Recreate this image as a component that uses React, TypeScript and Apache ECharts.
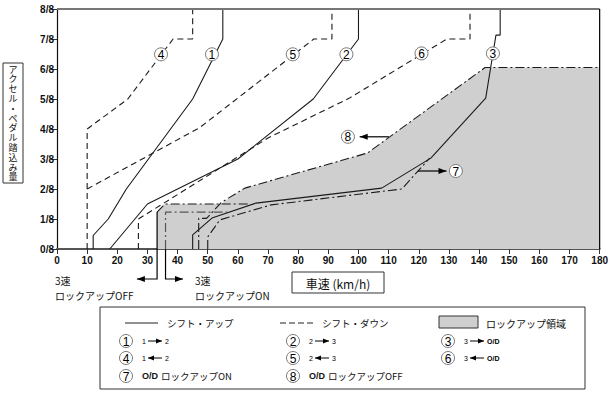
import React, { useEffect, useRef } from "react";
import * as echarts from "echarts";

// ---- data (speed km/h, accelerator pedal in eighths) ----
const X_MIN = 0;
const X_MAX = 180;
const X_STEP = 10;
const yTickLabels = ["0/8", "1/8", "2/8", "3/8", "4/8", "5/8", "6/8", "7/8", "8/8"];

const up12 = [[12, 0], [12, 0.45], [17, 1], [23, 2], [45, 5], [55, 7], [55, 8]];
const up23 = [[17.5, 0], [30, 1.5], [60, 3], [85, 5], [100, 7], [100, 8]];
const up3OD = [[45, 0], [45, 0.47], [51.4, 1.03], [66, 1.53], [107.7, 2.03], [124, 3.03], [142.2, 5.03], [145.6, 7.13], [147, 7.13], [147, 8]];
const down21 = [[10, 0], [10, 4], [23.5, 5], [38.5, 7], [45, 7], [45, 8]];
const down32 = [[10, 2], [47.4, 4.05], [85.2, 7], [91.2, 7], [91.2, 8]];
const downOD3 = [[27, 0], [27, 1], [70, 3.7], [97, 5.03], [129.3, 7], [137, 7], [137, 8]];
const lockOnOD = [[50, 0], [50, 0.4], [54, 0.97], [71, 1.47], [114.4, 2.0], [123.6, 3.03]];
const lockOffOD = [[47, 0], [47, 1.02], [49.6, 1.02], [54.5, 1.55], [62.3, 2.03], [103, 3.2], [142, 6.05], [180, 6.05]];
const lock3OffVert = [[33.2, 0], [33.2, 1.23]];
const lock3Off = [[33.2, 1.23], [35.8, 1.5], [64, 1.5]];
const lock3On = [[36, 0], [36, 1.23], [56.5, 1.23]];
const lockArea = [[33.2, 0], [33.2, 1.23], [35.8, 1.5], [54.3, 1.5], [62.3, 2.03], [103, 3.2], [142, 6.05], [180, 6.05]];

const markerPos = [
  [51.4, 6.49, "1"], [96, 6.49, "2"], [144.6, 6.52, "3"], [34.5, 6.49, "4"],
  [78.2, 6.49, "5"], [120.9, 6.52, "6"], [132.3, 2.6, "7"], [96.5, 3.74, "8"],
];
const arrow7 = [[119.7, 2.6], [129.2, 2.6]];
const arrow8 = [[110.1, 3.74], [100.4, 3.74]];
const lock3OffArrowX = [33.2, 26.5];
const lock3OnArrowX = [36, 41.8];

const FF = '"Liberation Sans", Arial, "Noto Sans CJK JP", sans-serif';
const JF = '"Noto Sans CJK JP", "Liberation Sans", sans-serif';
const INK = "#1a1a1a";
const DASH = [6, 4];
const DASHDOT = [9, 3, 2, 3];

const ln = (data: number[][], type: any, z = 3, width = 1.1, color = INK) => ({
  type: "line", data, symbol: "none", silent: true, z, clip: false,
  lineStyle: { color, width, type },
});

function arrowHead(x: number, y: number, dx: number, dy: number, len = 8, half = 3) {
  const L = Math.hypot(dx, dy) || 1;
  const ux = dx / L, uy = dy / L;
  const bx = x - ux * len, by = y - uy * len;
  return {
    type: "polygon", z: 50,
    shape: { points: [[x, y], [bx - uy * half, by + ux * half], [bx + uy * half, by - ux * half]] },
    style: { fill: "#000" },
  };
}

function circleLabel(cx: number, cy: number, t: string, r = 6.5) {
  return [
    { type: "circle", z: 50, shape: { cx, cy, r }, style: { fill: "#fff", stroke: "#777", lineWidth: 1 } },
    { type: "text", z: 51, x: cx, y: cy + 0.5, style: { text: t, fill: "#000", font: `12px ${FF}`, align: "center", verticalAlign: "middle" } },
  ];
}

function smallArrowText(x: number, y: number, a: string, b: string, left: boolean) {
  const els: any[] = [];
  els.push({ type: "text", z: 50, x, y, style: { text: a, fill: "#000", font: `7px ${FF}`, align: "left", verticalAlign: "middle" } });
  const x1 = x + 6, x2 = x + 20;
  els.push({ type: "line", z: 50, shape: { x1, y1: y, x2, y2: y }, style: { stroke: "#000", lineWidth: 1 } });
  els.push(left ? arrowHead(x1, y, -1, 0, 6, 2.5) : arrowHead(x2, y, 1, 0, 6, 2.5));
  els.push({ type: "text", z: 50, x: x2 + 3, y, style: { text: b, fill: "#000", font: b === "O/D" ? `bold 7px ${FF}` : `7px ${FF}`, align: "left", verticalAlign: "middle" } });
  return els;
}

export default function App() {
  const ref = useRef<HTMLDivElement>(null);
  useEffect(() => {
    if (!ref.current) return;
    const chart = echarts.init(ref.current, undefined, { renderer: "svg" });
    const option: any = {
      animation: false,
      backgroundColor: "#fff",
      grid: { left: 57, top: 9, width: 543, height: 240 },
      xAxis: {
        type: "value", min: X_MIN, max: X_MAX, interval: X_STEP,
        axisLine: { lineStyle: { color: "#555", width: 2 } },
        axisTick: { length: 5, lineStyle: { color: "#333", width: 1 } },
        axisLabel: { fontWeight: "bold", fontSize: 10, color: "#111", margin: 6, fontFamily: FF },
        splitLine: { show: false },
      },
      yAxis: {
        type: "value", min: 0, max: 8, interval: 1,
        axisLine: { show: true, lineStyle: { color: "#111", width: 1.2 } },
        axisTick: { show: true, length: 6, lineStyle: { color: "#333" } },
        axisLabel: { fontWeight: "bold", fontSize: 10, color: "#111", margin: 3, fontFamily: FF, formatter: (v: number) => yTickLabels[v] ?? "" },
        splitLine: { show: false },
      },
      series: [
        { type: "line", data: lockArea, symbol: "none", silent: true, z: 1, lineStyle: { width: 0 }, areaStyle: { color: "#cfcfcf", opacity: 1 } },
        ln(up12, "solid"),
        ln(up23, "solid"),
        ln(up3OD, "solid"),
        ln(down21, DASH),
        ln(down32, DASH),
        ln(downOD3, DASH),
        ln(lockOnOD, DASHDOT),
        ln(lockOffOD, DASHDOT),
        ln(lock3OffVert, "solid", 4, 1.2, "#000"),
        ln(lock3Off, DASHDOT),
        ln(lock3On, DASHDOT, 3, 1.2, "#555"),
      ],
    };
    chart.setOption(option);

    const px = (p: number[]) => chart.convertToPixel({ gridIndex: 0 }, p) as number[];
    const g: any[] = [];
    const tl = px([X_MIN, 8]);
    const br = px([X_MAX, 0]);
    // frame top and right
    g.push({ type: "line", z: 40, shape: { x1: tl[0], y1: tl[1], x2: br[0], y2: tl[1] }, style: { stroke: "#777", lineWidth: 2 } });
    g.push({ type: "line", z: 40, shape: { x1: br[0], y1: tl[1], x2: br[0], y2: br[1] }, style: { stroke: "#000", lineWidth: 1.2 } });

    // circle markers
    markerPos.forEach((m) => {
      const p = px([m[0] as number, m[1] as number]);
      g.push(...circleLabel(p[0], p[1], m[2] as string));
    });
    // arrows 7 and 8
    [arrow7, arrow8].forEach((a) => {
      const p1 = px(a[0]), p2 = px(a[1]);
      g.push({ type: "line", z: 50, shape: { x1: p1[0], y1: p1[1], x2: p2[0], y2: p2[1] }, style: { stroke: "#000", lineWidth: 1.2 } });
      g.push(arrowHead(p2[0], p2[1], p2[0] - p1[0], p2[1] - p1[1], 8, 3));
    });

    // 3速 lockup arrows below axis
    const yArrow = br[1] + 30;
    [lock3OffArrowX, lock3OnArrowX].forEach((a) => {
      const p0 = px([a[0], 0]);
      const p1 = px([a[1], 0]);
      g.push({ type: "polyline", z: 50, shape: { points: [[p0[0], p0[1]], [p0[0], yArrow], [p1[0], yArrow]] }, style: { stroke: "#000", lineWidth: 1.2, fill: null } });
      g.push(arrowHead(p1[0], yArrow, p1[0] - p0[0], 0, 8, 3));
    });
    const annot = (x: number, y: number, t: string) =>
      g.push({ type: "text", z: 50, x, y, style: { text: t, fill: "#111", font: `10px ${JF}`, align: "left", verticalAlign: "middle" } });
    annot(55, 280, "3速");
    annot(55, 295, "ロックアップOFF");
    annot(195, 280, "3速");
    annot(195, 295, "ロックアップON");

    // x axis title
    g.push({ type: "rect", z: 50, shape: { x: 292, y: 272, width: 92, height: 21 }, style: { fill: "#fff", stroke: "#333", lineWidth: 1 } });
    g.push({ type: "text", z: 51, x: 338, y: 283, style: { text: "車速 (km/h)", fill: "#111", font: `12px ${JF}`, align: "center", verticalAlign: "middle" } });

    // y axis title (vertical writing, one glyph per element)
    g.push({ type: "rect", z: 50, shape: { x: 3, y: 63, width: 20, height: 120 }, style: { fill: "#fff", stroke: "#333", lineWidth: 1 } });
    "アクセル・ペダル踏込み量".split("").forEach((ch, i) => {
      g.push({ type: "text", z: 51, x: 13, y: 69 + i * 9.8, style: { text: ch, fill: "#111", font: `9px ${JF}`, align: "center", verticalAlign: "middle" } });
    });

    // legend box
    g.push({ type: "rect", z: 50, shape: { x: 100, y: 307, width: 485, height: 82 }, style: { fill: "#fff", stroke: "#333", lineWidth: 1 } });
    const r1 = 323, r2 = 341, r3 = 358, r4 = 376;
    g.push({ type: "line", z: 51, shape: { x1: 125, y1: r1, x2: 158, y2: r1 }, style: { stroke: "#222", lineWidth: 1 } });
    g.push({ type: "text", z: 51, x: 167, y: r1, style: { text: "シフト・アップ", fill: "#111", font: `9.5px ${JF}`, align: "left", verticalAlign: "middle" } });
    g.push({ type: "line", z: 51, shape: { x1: 280, y1: r1, x2: 314, y2: r1 }, style: { stroke: "#222", lineWidth: 1, lineDash: [6, 3] } });
    g.push({ type: "text", z: 51, x: 322, y: r1, style: { text: "シフト・ダウン", fill: "#111", font: `9.5px ${JF}`, align: "left", verticalAlign: "middle" } });
    g.push({ type: "rect", z: 51, shape: { x: 439, y: 316, width: 39, height: 12 }, style: { fill: "#cfcfcf", stroke: "#333", lineWidth: 1 } });
    g.push({ type: "text", z: 51, x: 486, y: r1, style: { text: "ロックアップ領域", fill: "#111", font: `10px ${JF}`, align: "left", verticalAlign: "middle" } });

    const cols = [126, 293, 448];
    const rowsUp = [["1", "2"], ["2", "3"], ["3", "O/D"]];
    const rowsDn = [["4", "1", "2"], ["5", "2", "3"], ["6", "3", "O/D"]];
    ["1", "2", "3"].forEach((n, i) => {
      g.push(...circleLabel(cols[i], r2, n));
      g.push(...smallArrowText(cols[i] + 16, r2, rowsUp[i][0], rowsUp[i][1], false));
    });
    rowsDn.forEach((r, i) => {
      g.push(...circleLabel(cols[i], r3, r[0]));
      g.push(...smallArrowText(cols[i] + 16, r3, r[1], r[2], true));
    });
    [["7", "ロックアップON"], ["8", "ロックアップOFF"]].forEach((r, i) => {
      g.push(...circleLabel(cols[i], r4, r[0]));
      g.push({ type: "text", z: 51, x: cols[i] + 16, y: r4, style: { text: "O/D", fill: "#111", font: `bold 9px ${FF}`, align: "left", verticalAlign: "middle" } });
      g.push({ type: "text", z: 51, x: cols[i] + 35, y: r4, style: { text: r[1], fill: "#111", font: `9.5px ${JF}`, align: "left", verticalAlign: "middle" } });
    });

    chart.setOption({ graphic: g });
    return () => chart.dispose();
  }, []);
  return <div ref={ref} style={{ position: "fixed", left: 0, top: 0, width: 611, height: 394 }} />;
}
